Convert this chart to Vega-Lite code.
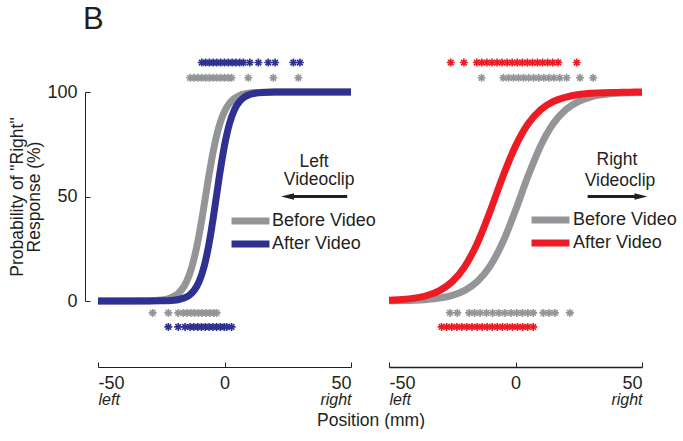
{
  "$schema": "https://vega.github.io/schema/vega-lite/v6.json",
  "padding": {"left": 8, "top": 4, "right": 0, "bottom": 0},
  "bounds": "flush",
  "spacing": 38,
  "config": {
    "font": "Liberation Sans",
    "view": {"stroke": null},
    "axis": {"grid": false, "domainColor": "#231f20", "tickColor": "#231f20", "labelColor": "#231f20", "titleColor": "#231f20", "labelFont": "Liberation Sans", "titleFont": "Liberation Sans"},
    "text": {"font": "Liberation Sans"}
  },
  "title": {"text": "B", "anchor": "start", "frame": "group", "fontSize": 31, "fontWeight": "normal", "dx": -15, "offset": 19, "color": "#231f20", "font": "Liberation Sans"},
  "datasets": {
    "curves": [
      {"panel": "L", "cond": "Before Video", "x": -50, "p": 0},
      {"panel": "L", "cond": "Before Video", "x": -40, "p": 0.01},
      {"panel": "L", "cond": "Before Video", "x": -30, "p": 0.1},
      {"panel": "L", "cond": "Before Video", "x": -25, "p": 0.5},
      {"panel": "L", "cond": "Before Video", "x": -22, "p": 1.2},
      {"panel": "L", "cond": "Before Video", "x": -20, "p": 2.2},
      {"panel": "L", "cond": "Before Video", "x": -18, "p": 4.0},
      {"panel": "L", "cond": "Before Video", "x": -16, "p": 7.0},
      {"panel": "L", "cond": "Before Video", "x": -14, "p": 12.2},
      {"panel": "L", "cond": "Before Video", "x": -12, "p": 20.4},
      {"panel": "L", "cond": "Before Video", "x": -10, "p": 31.9},
      {"panel": "L", "cond": "Before Video", "x": -8, "p": 46.2},
      {"panel": "L", "cond": "Before Video", "x": -6, "p": 61.2},
      {"panel": "L", "cond": "Before Video", "x": -4, "p": 74.3},
      {"panel": "L", "cond": "Before Video", "x": -2, "p": 84.2},
      {"panel": "L", "cond": "Before Video", "x": 0, "p": 90.7},
      {"panel": "L", "cond": "Before Video", "x": 2, "p": 94.7},
      {"panel": "L", "cond": "Before Video", "x": 4, "p": 97.0},
      {"panel": "L", "cond": "Before Video", "x": 6, "p": 98.4},
      {"panel": "L", "cond": "Before Video", "x": 8, "p": 99.1},
      {"panel": "L", "cond": "Before Video", "x": 10, "p": 99.5},
      {"panel": "L", "cond": "Before Video", "x": 15, "p": 99.9},
      {"panel": "L", "cond": "Before Video", "x": 20, "p": 100},
      {"panel": "L", "cond": "Before Video", "x": 30, "p": 100},
      {"panel": "L", "cond": "Before Video", "x": 40, "p": 100},
      {"panel": "L", "cond": "Before Video", "x": 50, "p": 100},
      {"panel": "L", "cond": "After Video", "x": -50, "p": 0},
      {"panel": "L", "cond": "After Video", "x": -40, "p": 0},
      {"panel": "L", "cond": "After Video", "x": -30, "p": 0.01},
      {"panel": "L", "cond": "After Video", "x": -25, "p": 0.07},
      {"panel": "L", "cond": "After Video", "x": -20, "p": 0.37},
      {"panel": "L", "cond": "After Video", "x": -18, "p": 0.72},
      {"panel": "L", "cond": "After Video", "x": -16, "p": 1.38},
      {"panel": "L", "cond": "After Video", "x": -14, "p": 2.66},
      {"panel": "L", "cond": "After Video", "x": -12, "p": 5.07},
      {"panel": "L", "cond": "After Video", "x": -10, "p": 9.4},
      {"panel": "L", "cond": "After Video", "x": -8, "p": 16.8},
      {"panel": "L", "cond": "After Video", "x": -6, "p": 28.2},
      {"panel": "L", "cond": "After Video", "x": -4, "p": 43.4},
      {"panel": "L", "cond": "After Video", "x": -2, "p": 59.9},
      {"panel": "L", "cond": "After Video", "x": 0, "p": 74.4},
      {"panel": "L", "cond": "After Video", "x": 2, "p": 85.0},
      {"panel": "L", "cond": "After Video", "x": 4, "p": 91.7},
      {"panel": "L", "cond": "After Video", "x": 6, "p": 95.5},
      {"panel": "L", "cond": "After Video", "x": 8, "p": 97.7},
      {"panel": "L", "cond": "After Video", "x": 10, "p": 98.8},
      {"panel": "L", "cond": "After Video", "x": 12, "p": 99.4},
      {"panel": "L", "cond": "After Video", "x": 15, "p": 99.8},
      {"panel": "L", "cond": "After Video", "x": 20, "p": 100},
      {"panel": "L", "cond": "After Video", "x": 30, "p": 100},
      {"panel": "L", "cond": "After Video", "x": 40, "p": 100},
      {"panel": "L", "cond": "After Video", "x": 50, "p": 100},
      {"panel": "R", "cond": "Before Video", "x": -50, "p": 0.1},
      {"panel": "R", "cond": "Before Video", "x": -45, "p": 0.19},
      {"panel": "R", "cond": "Before Video", "x": -40, "p": 0.37},
      {"panel": "R", "cond": "Before Video", "x": -35, "p": 0.72},
      {"panel": "R", "cond": "Before Video", "x": -30, "p": 1.38},
      {"panel": "R", "cond": "Before Video", "x": -25, "p": 2.66},
      {"panel": "R", "cond": "Before Video", "x": -20, "p": 5.07},
      {"panel": "R", "cond": "Before Video", "x": -15, "p": 9.4},
      {"panel": "R", "cond": "Before Video", "x": -10, "p": 16.8},
      {"panel": "R", "cond": "Before Video", "x": -5, "p": 28.2},
      {"panel": "R", "cond": "Before Video", "x": 0, "p": 43.4},
      {"panel": "R", "cond": "Before Video", "x": 5, "p": 59.9},
      {"panel": "R", "cond": "Before Video", "x": 10, "p": 74.4},
      {"panel": "R", "cond": "Before Video", "x": 15, "p": 85.0},
      {"panel": "R", "cond": "Before Video", "x": 20, "p": 91.7},
      {"panel": "R", "cond": "Before Video", "x": 25, "p": 95.5},
      {"panel": "R", "cond": "Before Video", "x": 30, "p": 97.7},
      {"panel": "R", "cond": "Before Video", "x": 35, "p": 98.8},
      {"panel": "R", "cond": "Before Video", "x": 40, "p": 99.4},
      {"panel": "R", "cond": "Before Video", "x": 45, "p": 99.7},
      {"panel": "R", "cond": "Before Video", "x": 50, "p": 99.8},
      {"panel": "R", "cond": "After Video", "x": -50, "p": 0.36},
      {"panel": "R", "cond": "After Video", "x": -45, "p": 0.70},
      {"panel": "R", "cond": "After Video", "x": -40, "p": 1.37},
      {"panel": "R", "cond": "After Video", "x": -35, "p": 2.63},
      {"panel": "R", "cond": "After Video", "x": -30, "p": 4.98},
      {"panel": "R", "cond": "After Video", "x": -25, "p": 9.28},
      {"panel": "R", "cond": "After Video", "x": -20, "p": 16.6},
      {"panel": "R", "cond": "After Video", "x": -15, "p": 27.9},
      {"panel": "R", "cond": "After Video", "x": -10, "p": 43.0},
      {"panel": "R", "cond": "After Video", "x": -5, "p": 59.6},
      {"panel": "R", "cond": "After Video", "x": 0, "p": 74.1},
      {"panel": "R", "cond": "After Video", "x": 5, "p": 84.8},
      {"panel": "R", "cond": "After Video", "x": 10, "p": 91.6},
      {"panel": "R", "cond": "After Video", "x": 15, "p": 95.5},
      {"panel": "R", "cond": "After Video", "x": 20, "p": 97.6},
      {"panel": "R", "cond": "After Video", "x": 25, "p": 98.8},
      {"panel": "R", "cond": "After Video", "x": 30, "p": 99.4},
      {"panel": "R", "cond": "After Video", "x": 35, "p": 99.7},
      {"panel": "R", "cond": "After Video", "x": 40, "p": 99.8},
      {"panel": "R", "cond": "After Video", "x": 45, "p": 99.9},
      {"panel": "R", "cond": "After Video", "x": 50, "p": 100}
    ],
    "stars": [
      {"panel": "L", "cond": "After Video", "y": 114.1, "x": -9},
      {"panel": "L", "cond": "After Video", "y": 114.1, "x": -7.5},
      {"panel": "L", "cond": "After Video", "y": 114.1, "x": -6},
      {"panel": "L", "cond": "After Video", "y": 114.1, "x": -4.5},
      {"panel": "L", "cond": "After Video", "y": 114.1, "x": -3},
      {"panel": "L", "cond": "After Video", "y": 114.1, "x": -1.5},
      {"panel": "L", "cond": "After Video", "y": 114.1, "x": 0},
      {"panel": "L", "cond": "After Video", "y": 114.1, "x": 1.5},
      {"panel": "L", "cond": "After Video", "y": 114.1, "x": 3},
      {"panel": "L", "cond": "After Video", "y": 114.1, "x": 4.5},
      {"panel": "L", "cond": "After Video", "y": 114.1, "x": 6},
      {"panel": "L", "cond": "After Video", "y": 114.1, "x": 7.5},
      {"panel": "L", "cond": "After Video", "y": 114.1, "x": 10},
      {"panel": "L", "cond": "After Video", "y": 114.1, "x": 13.4},
      {"panel": "L", "cond": "After Video", "y": 114.1, "x": 17.3},
      {"panel": "L", "cond": "After Video", "y": 114.1, "x": 20},
      {"panel": "L", "cond": "After Video", "y": 114.1, "x": 27.2},
      {"panel": "L", "cond": "After Video", "y": 114.1, "x": 29.8},
      {"panel": "L", "cond": "Before Video", "y": 106.8, "x": -13.6},
      {"panel": "L", "cond": "Before Video", "y": 106.8, "x": -12},
      {"panel": "L", "cond": "Before Video", "y": 106.8, "x": -10.5},
      {"panel": "L", "cond": "Before Video", "y": 106.8, "x": -9},
      {"panel": "L", "cond": "Before Video", "y": 106.8, "x": -7.5},
      {"panel": "L", "cond": "Before Video", "y": 106.8, "x": -6},
      {"panel": "L", "cond": "Before Video", "y": 106.8, "x": -4.5},
      {"panel": "L", "cond": "Before Video", "y": 106.8, "x": -3},
      {"panel": "L", "cond": "Before Video", "y": 106.8, "x": -1.5},
      {"panel": "L", "cond": "Before Video", "y": 106.8, "x": 0},
      {"panel": "L", "cond": "Before Video", "y": 106.8, "x": 1.5},
      {"panel": "L", "cond": "Before Video", "y": 106.8, "x": 2.8},
      {"panel": "L", "cond": "Before Video", "y": 106.8, "x": 9.4},
      {"panel": "L", "cond": "Before Video", "y": 106.8, "x": 19.3},
      {"panel": "L", "cond": "Before Video", "y": 106.8, "x": 29.2},
      {"panel": "L", "cond": "Before Video", "y": -5.7, "x": -28.4},
      {"panel": "L", "cond": "Before Video", "y": -5.7, "x": -22.2},
      {"panel": "L", "cond": "Before Video", "y": -5.7, "x": -18.3},
      {"panel": "L", "cond": "Before Video", "y": -5.7, "x": -16.3},
      {"panel": "L", "cond": "Before Video", "y": -5.7, "x": -14.8},
      {"panel": "L", "cond": "Before Video", "y": -5.7, "x": -13.3},
      {"panel": "L", "cond": "Before Video", "y": -5.7, "x": -11.8},
      {"panel": "L", "cond": "Before Video", "y": -5.7, "x": -10.3},
      {"panel": "L", "cond": "Before Video", "y": -5.7, "x": -8.8},
      {"panel": "L", "cond": "Before Video", "y": -5.7, "x": -7.3},
      {"panel": "L", "cond": "Before Video", "y": -5.7, "x": -5.8},
      {"panel": "L", "cond": "Before Video", "y": -5.7, "x": -4.3},
      {"panel": "L", "cond": "Before Video", "y": -5.7, "x": -3.1},
      {"panel": "L", "cond": "After Video", "y": -12.4, "x": -22.2},
      {"panel": "L", "cond": "After Video", "y": -12.4, "x": -18.3},
      {"panel": "L", "cond": "After Video", "y": -12.4, "x": -15.6},
      {"panel": "L", "cond": "After Video", "y": -12.4, "x": -13.6},
      {"panel": "L", "cond": "After Video", "y": -12.4, "x": -12.1},
      {"panel": "L", "cond": "After Video", "y": -12.4, "x": -10.6},
      {"panel": "L", "cond": "After Video", "y": -12.4, "x": -9.1},
      {"panel": "L", "cond": "After Video", "y": -12.4, "x": -7.6},
      {"panel": "L", "cond": "After Video", "y": -12.4, "x": -6.1},
      {"panel": "L", "cond": "After Video", "y": -12.4, "x": -4.6},
      {"panel": "L", "cond": "After Video", "y": -12.4, "x": -3.1},
      {"panel": "L", "cond": "After Video", "y": -12.4, "x": -1.6},
      {"panel": "L", "cond": "After Video", "y": -12.4, "x": -0.1},
      {"panel": "L", "cond": "After Video", "y": -12.4, "x": 0.9},
      {"panel": "L", "cond": "After Video", "y": -12.4, "x": 2.8},
      {"panel": "R", "cond": "After Video", "y": 114.1, "x": -25.6},
      {"panel": "R", "cond": "After Video", "y": 114.1, "x": -20.4},
      {"panel": "R", "cond": "After Video", "y": 114.1, "x": -15.3},
      {"panel": "R", "cond": "After Video", "y": 114.1, "x": -13.3},
      {"panel": "R", "cond": "After Video", "y": 114.1, "x": -11.3},
      {"panel": "R", "cond": "After Video", "y": 114.1, "x": -9.3},
      {"panel": "R", "cond": "After Video", "y": 114.1, "x": -7.3},
      {"panel": "R", "cond": "After Video", "y": 114.1, "x": -5.3},
      {"panel": "R", "cond": "After Video", "y": 114.1, "x": -3.3},
      {"panel": "R", "cond": "After Video", "y": 114.1, "x": -1.3},
      {"panel": "R", "cond": "After Video", "y": 114.1, "x": 0.7},
      {"panel": "R", "cond": "After Video", "y": 114.1, "x": 2.7},
      {"panel": "R", "cond": "After Video", "y": 114.1, "x": 4.7},
      {"panel": "R", "cond": "After Video", "y": 114.1, "x": 6.7},
      {"panel": "R", "cond": "After Video", "y": 114.1, "x": 8.7},
      {"panel": "R", "cond": "After Video", "y": 114.1, "x": 10.7},
      {"panel": "R", "cond": "After Video", "y": 114.1, "x": 12.7},
      {"panel": "R", "cond": "After Video", "y": 114.1, "x": 14.7},
      {"panel": "R", "cond": "After Video", "y": 114.1, "x": 16.9},
      {"panel": "R", "cond": "After Video", "y": 114.1, "x": 24.2},
      {"panel": "R", "cond": "Before Video", "y": 106.8, "x": -13.4},
      {"panel": "R", "cond": "Before Video", "y": 106.8, "x": -4.8},
      {"panel": "R", "cond": "Before Video", "y": 106.8, "x": -2.8},
      {"panel": "R", "cond": "Before Video", "y": 106.8, "x": -0.8},
      {"panel": "R", "cond": "Before Video", "y": 106.8, "x": 1.2},
      {"panel": "R", "cond": "Before Video", "y": 106.8, "x": 3.2},
      {"panel": "R", "cond": "Before Video", "y": 106.8, "x": 5.2},
      {"panel": "R", "cond": "Before Video", "y": 106.8, "x": 7.2},
      {"panel": "R", "cond": "Before Video", "y": 106.8, "x": 9.2},
      {"panel": "R", "cond": "Before Video", "y": 106.8, "x": 11.2},
      {"panel": "R", "cond": "Before Video", "y": 106.8, "x": 13.2},
      {"panel": "R", "cond": "Before Video", "y": 106.8, "x": 15.2},
      {"panel": "R", "cond": "Before Video", "y": 106.8, "x": 17.5},
      {"panel": "R", "cond": "Before Video", "y": 106.8, "x": 20.2},
      {"panel": "R", "cond": "Before Video", "y": 106.8, "x": 25.5},
      {"panel": "R", "cond": "Before Video", "y": 106.8, "x": 30.7},
      {"panel": "R", "cond": "Before Video", "y": -5.7, "x": -25.9},
      {"panel": "R", "cond": "Before Video", "y": -5.7, "x": -23},
      {"panel": "R", "cond": "Before Video", "y": -5.7, "x": -18.3},
      {"panel": "R", "cond": "Before Video", "y": -5.7, "x": -16.2},
      {"panel": "R", "cond": "Before Video", "y": -5.7, "x": -14},
      {"panel": "R", "cond": "Before Video", "y": -5.7, "x": -11.5},
      {"panel": "R", "cond": "Before Video", "y": -5.7, "x": -9},
      {"panel": "R", "cond": "Before Video", "y": -5.7, "x": -6.6},
      {"panel": "R", "cond": "Before Video", "y": -5.7, "x": -4.2},
      {"panel": "R", "cond": "Before Video", "y": -5.7, "x": -1.8},
      {"panel": "R", "cond": "Before Video", "y": -5.7, "x": 0.5},
      {"panel": "R", "cond": "Before Video", "y": -5.7, "x": 2.7},
      {"panel": "R", "cond": "Before Video", "y": -5.7, "x": 4.9},
      {"panel": "R", "cond": "Before Video", "y": -5.7, "x": 7},
      {"panel": "R", "cond": "Before Video", "y": -5.7, "x": 11},
      {"panel": "R", "cond": "Before Video", "y": -5.7, "x": 13.3},
      {"panel": "R", "cond": "Before Video", "y": -5.7, "x": 15.6},
      {"panel": "R", "cond": "Before Video", "y": -5.7, "x": 21.5},
      {"panel": "R", "cond": "After Video", "y": -12.4, "x": -29.2},
      {"panel": "R", "cond": "After Video", "y": -12.4, "x": -27.2},
      {"panel": "R", "cond": "After Video", "y": -12.4, "x": -25.2},
      {"panel": "R", "cond": "After Video", "y": -12.4, "x": -23.2},
      {"panel": "R", "cond": "After Video", "y": -12.4, "x": -21.2},
      {"panel": "R", "cond": "After Video", "y": -12.4, "x": -19.2},
      {"panel": "R", "cond": "After Video", "y": -12.4, "x": -17.2},
      {"panel": "R", "cond": "After Video", "y": -12.4, "x": -15.2},
      {"panel": "R", "cond": "After Video", "y": -12.4, "x": -13.2},
      {"panel": "R", "cond": "After Video", "y": -12.4, "x": -11.2},
      {"panel": "R", "cond": "After Video", "y": -12.4, "x": -9.2},
      {"panel": "R", "cond": "After Video", "y": -12.4, "x": -7.2},
      {"panel": "R", "cond": "After Video", "y": -12.4, "x": -5.2},
      {"panel": "R", "cond": "After Video", "y": -12.4, "x": -3.2},
      {"panel": "R", "cond": "After Video", "y": -12.4, "x": -1.2},
      {"panel": "R", "cond": "After Video", "y": -12.4, "x": 0.8},
      {"panel": "R", "cond": "After Video", "y": -12.4, "x": 2.8},
      {"panel": "R", "cond": "After Video", "y": -12.4, "x": 4.8},
      {"panel": "R", "cond": "After Video", "y": -12.4, "x": 7}
    ],
    "ends": [
      {"x": -50, "end": "left"},
      {"x": 50, "end": "right"}
    ],
    "one": [{}]
  },
  "hconcat": [
    {
      "width": 253,
      "height": 209,
      "layer": [
        {
          "data": {"name": "curves"},
          "transform": [{"filter": "datum.panel === 'L'"}],
          "mark": {"type": "line", "strokeWidth": 7, "interpolate": "monotone"},
          "encoding": {
            "x": {"field": "x", "type": "quantitative", "scale": {"domain": [-50, 50], "nice": false, "zero": false},
                  "axis": {"orient": "bottom", "values": [-50, 0, 50], "labelExpr": "datum.value < 0 ? '-50' : datum.label", "offset": 66, "tickSize": -5, "labelPadding": 12, "labelFontSize": 18, "title": null, "domainWidth": 1}},
            "y": {"field": "p", "type": "quantitative", "scale": {"domain": [0, 100], "nice": false},
                  "axis": {"orient": "left", "values": [0, 50, 100], "offset": 13, "tickSize": -5, "labelPadding": 13, "labelFontSize": 18, "title": ["Probability of \"Right\"", "Response (%)"], "titleFontSize": 17.5, "titleFontWeight": "normal", "titleLineHeight": 17, "titlePadding": 3}},
            "color": {"field": "cond", "type": "nominal", "scale": {"domain": ["Before Video", "After Video"], "range": ["#939598", "#2e3192"]},
                      "legend": {"orient": "none", "legendX": 143.5, "legendY": 120, "title": null, "symbolType": "M-4,0H4", "symbolSize": 90, "symbolStrokeWidth": 7, "labelFontSize": 18, "labelOffset": 12.5, "rowPadding": -11, "padding": 0, "labelColor": "#231f20", "labelFont": "Liberation Sans"}}
          }
        },
        {
          "data": {"name": "stars"},
          "transform": [{"filter": "datum.panel === 'L'"}],
          "mark": {"type": "point", "shape": "M0,-1V1M-1,0H1M-0.7,-0.7L0.7,0.7M-0.7,0.7L0.7,-0.7", "filled": false, "size": 64, "strokeWidth": 1.6, "opacity": 1},
          "encoding": {
            "x": {"field": "x", "type": "quantitative", "axis": null},
            "y": {"field": "y", "type": "quantitative"},
            "stroke": {"field": "cond", "type": "nominal", "scale": {"domain": ["Before Video", "After Video"], "range": ["#939598", "#2e3192"]}, "legend": null}
          }
        },
        {
          "data": {"name": "one"},
          "mark": {"type": "text", "fontSize": 17.5, "align": "center", "baseline": "middle", "color": "#231f20"},
          "encoding": {"x": {"datum": 35.4, "type": "quantitative", "axis": null}, "y": {"datum": 66.5, "type": "quantitative"}, "text": {"value": "Left"}}
        },
        {
          "data": {"name": "one"},
          "mark": {"type": "text", "fontSize": 17.5, "align": "center", "baseline": "middle", "color": "#231f20"},
          "encoding": {"x": {"datum": 37.4, "type": "quantitative", "axis": null}, "y": {"datum": 57.9, "type": "quantitative"}, "text": {"value": "Videoclip"}}
        },
        {
          "data": {"name": "one"},
          "mark": {"type": "rule", "strokeWidth": 3, "color": "#231f20"},
          "encoding": {"x": {"datum": 25.2, "type": "quantitative", "axis": null}, "x2": {"datum": 48.5}, "y": {"datum": 50, "type": "quantitative"}}
        },
        {
          "data": {"name": "one"},
          "mark": {"type": "point", "shape": "M-1,0L1,-0.5L1,0.5Z", "filled": true, "size": 169, "color": "#231f20", "opacity": 1},
          "encoding": {"x": {"datum": 24.9, "type": "quantitative", "axis": null}, "y": {"datum": 50, "type": "quantitative"}}
        },
        {
          "data": {"name": "ends"},
          "mark": {"type": "point", "opacity": 0},
          "encoding": {
            "x": {"field": "x", "type": "quantitative",
                  "axis": {"orient": "bottom", "values": [-50, 50], "labelExpr": "datum.value < 0 ? 'left' : 'right'", "labelFontStyle": "italic", "labelFontSize": 16, "domain": false, "ticks": false, "offset": 66, "labelPadding": 24,
                           "title": "Position (mm)", "titleX": 272.5, "titleAlign": "center", "titleAnchor": null, "titleBaseline": "top", "titlePadding": 4, "titleFontSize": 17.5, "titleFontWeight": "normal"}},
            "y": {"datum": 50, "type": "quantitative"}
          }
        }
      ],
      "resolve": {"axis": {"x": "independent"}}
    },
    {
      "width": 253,
      "height": 209,
      "layer": [
        {
          "data": {"name": "curves"},
          "transform": [{"filter": "datum.panel === 'R'"}],
          "mark": {"type": "line", "strokeWidth": 7, "interpolate": "monotone"},
          "encoding": {
            "x": {"field": "x", "type": "quantitative", "scale": {"domain": [-50, 50], "nice": false, "zero": false},
                  "axis": {"orient": "bottom", "values": [-50, 0, 50], "labelExpr": "datum.value < 0 ? '-50' : datum.label", "offset": 66, "tickSize": -5, "labelPadding": 12, "labelFontSize": 18, "title": null, "domainWidth": 1.5}},
            "y": {"field": "p", "type": "quantitative", "scale": {"domain": [0, 100], "nice": false}, "axis": null},
            "color": {"field": "cond", "type": "nominal", "scale": {"domain": ["Before Video", "After Video"], "range": ["#939598", "#ed1c24"]},
                      "legend": {"orient": "none", "legendX": 152.5, "legendY": 119, "title": null, "symbolType": "M-4,0H4", "symbolSize": 90, "symbolStrokeWidth": 7, "labelFontSize": 18, "labelOffset": 13.5, "rowPadding": -11, "padding": 0, "labelColor": "#231f20", "labelFont": "Liberation Sans"}}
          }
        },
        {
          "data": {"name": "stars"},
          "transform": [{"filter": "datum.panel === 'R'"}],
          "mark": {"type": "point", "shape": "M0,-1V1M-1,0H1M-0.7,-0.7L0.7,0.7M-0.7,0.7L0.7,-0.7", "filled": false, "size": 64, "strokeWidth": 1.6, "opacity": 1},
          "encoding": {
            "x": {"field": "x", "type": "quantitative", "axis": null},
            "y": {"field": "y", "type": "quantitative", "axis": null},
            "stroke": {"field": "cond", "type": "nominal", "scale": {"domain": ["Before Video", "After Video"], "range": ["#939598", "#ed1c24"]}, "legend": null}
          }
        },
        {
          "data": {"name": "one"},
          "mark": {"type": "text", "fontSize": 17.5, "align": "center", "baseline": "middle", "color": "#231f20"},
          "encoding": {"x": {"datum": 40.1, "type": "quantitative", "axis": null}, "y": {"datum": 67.5, "type": "quantitative", "axis": null}, "text": {"value": "Right"}}
        },
        {
          "data": {"name": "one"},
          "mark": {"type": "text", "fontSize": 17.5, "align": "center", "baseline": "middle", "color": "#231f20"},
          "encoding": {"x": {"datum": 41.3, "type": "quantitative", "axis": null}, "y": {"datum": 57.4, "type": "quantitative", "axis": null}, "text": {"value": "Videoclip"}}
        },
        {
          "data": {"name": "one"},
          "mark": {"type": "rule", "strokeWidth": 3, "color": "#231f20"},
          "encoding": {"x": {"datum": 28.5, "type": "quantitative", "axis": null}, "x2": {"datum": 49.6}, "y": {"datum": 50, "type": "quantitative", "axis": null}}
        },
        {
          "data": {"name": "one"},
          "mark": {"type": "point", "shape": "M1,0L-1,-0.5L-1,0.5Z", "filled": true, "size": 169, "color": "#231f20", "opacity": 1},
          "encoding": {"x": {"datum": 49.6, "type": "quantitative", "axis": null}, "y": {"datum": 50, "type": "quantitative", "axis": null}}
        },
        {
          "data": {"name": "ends"},
          "mark": {"type": "point", "opacity": 0},
          "encoding": {
            "x": {"field": "x", "type": "quantitative",
                  "axis": {"orient": "bottom", "values": [-50, 50], "labelExpr": "datum.value < 0 ? 'left' : 'right'", "labelFontStyle": "italic", "labelFontSize": 16, "domain": false, "ticks": false, "offset": 66, "labelPadding": 24, "title": null}},
            "y": {"datum": 50, "type": "quantitative", "axis": null}
          }
        }
      ],
      "resolve": {"axis": {"x": "independent"}}
    }
  ],
  "resolve": {"scale": {"x": "independent", "y": "independent", "color": "independent", "stroke": "independent"}}
}
